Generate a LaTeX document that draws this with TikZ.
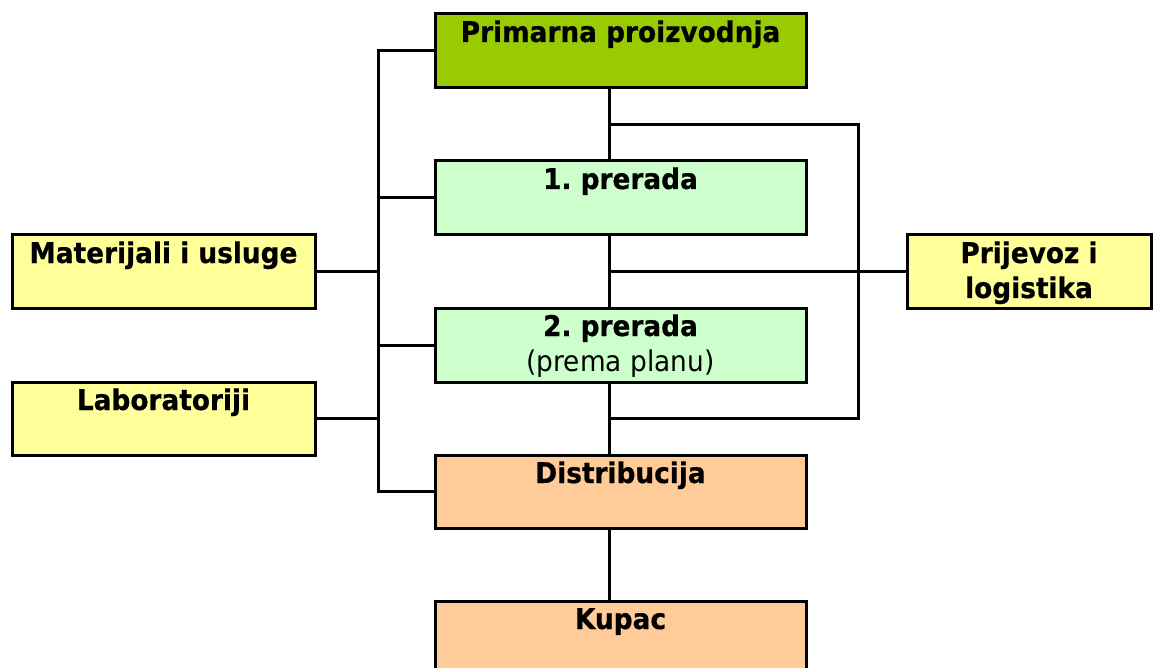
\documentclass[tikz,border=0pt]{standalone}
\usepackage{fontspec}
\setmainfont{DejaVu Sans}[FakeStretch=0.925, BoldFeatures={FakeBold=0.6}]
\frenchspacing
\definecolor{primgreen}{HTML}{99CC00}
\definecolor{stepgreen}{HTML}{CCFFCC}
\definecolor{sideyellow}{HTML}{FFFF99}
\definecolor{endorange}{HTML}{FFCC99}
% box contents: text hangs from the top edge of a fixed-size box
\newcommand{\cell}[3]{\parbox[t][#2][t]{#1}{\centering\frenchspacing\fontsize{28.5}{35}\selectfont\rule{0pt}{28pt}#3\par}}
\tikzset{
  box/.style={draw=black, line width=3pt, inner sep=0pt, outer sep=0pt, anchor=north west},
  link/.style={draw=black, line width=3pt},
}
\begin{document}
\begin{tikzpicture}[x=1pt, y=-1pt]
\useasboundingbox (0,0) rectangle (1153,668);

% main chain
\node[box, fill=primgreen] (prim) at (435,14) {\cell{371pt}{74pt}{\bfseries Primarna proizvodnja}};
\node[box, fill=stepgreen] (p1) at (435,161) {\cell{371pt}{74pt}{\bfseries 1. prerada}};
\node[box, fill=stepgreen] (p2) at (435,308) {\cell{371pt}{74pt}{\bfseries 2. prerada\\\mdseries (prema planu)}};
\node[box, fill=endorange] (dist) at (435,455) {\cell{371pt}{73pt}{\bfseries Distribucija}};
\node[box, fill=endorange] (kupac) at (435,601) {\cell{371pt}{80pt}{\bfseries Kupac}};

% side boxes
\node[box, fill=sideyellow] (mat) at (12,235) {\cell{303pt}{73pt}{\bfseries Materijali i usluge}};
\node[box, fill=sideyellow] (lab) at (12,382) {\cell{303pt}{73pt}{\bfseries Laboratoriji}};
\node[box, fill=sideyellow] (trans) at (907,235) {\cell{244pt}{73pt}{\bfseries Prijevoz i\\logistika}};

% trunk lines
\coordinate (lx) at (378,0);
\coordinate (cx) at (609,0);
\coordinate (rx) at (858,0);
\coordinate (ytop) at (0,125);
\coordinate (ybot) at (0,418);

% left bus
\draw[link] (prim.west) -| (lx |- dist.west) -- (dist.west);
\draw[link] (p1.west) -- (lx |- p1.west);
\draw[link] (p2.west) -- (lx |- p2.west);
\draw[link] (mat.east) -- (lx |- mat.east);
\draw[link] (lab.east) -- (lx |- lab.east);

% centre chain
\draw[link] (cx |- prim.south) -- (cx |- p1.north);
\draw[link] (cx |- p1.south) -- (cx |- p2.north);
\draw[link] (cx |- p2.south) -- (cx |- dist.north);
\draw[link] (cx |- dist.south) -- (cx |- kupac.north);

% right loop to transport
\draw[link] (cx |- ytop) -| (rx |- ybot) -- (cx |- ybot);
\draw[link] (cx |- trans.west) -- (trans.west);
\end{tikzpicture}
\end{document}
